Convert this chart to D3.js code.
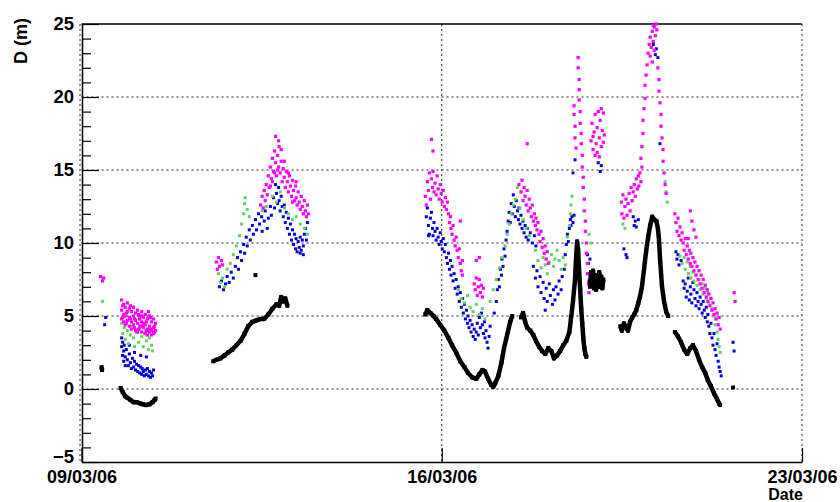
<!DOCTYPE html>
<html><head><meta charset="utf-8">
<script src="https://cdn.jsdelivr.net/npm/d3@7"></script>
<style>
body{margin:0;background:#fff}
svg{display:block}
text{font-family:"Liberation Sans",Arial,Helvetica,sans-serif;font-weight:bold;fill:#000}
</style>
</head><body>
<svg id="chart" width="840" height="502"></svg>
<script>
// ---- axis definitions ----
const xStart = Date.UTC(2006, 2, 9);
const xEnd = Date.UTC(2006, 2, 23);
const xTickDays = [0, 7, 14];
const xTickLabels = ["09/03/06", "16/03/06", "23/03/06"];
const yDomain = [-5, 25];
const yMajorTicks = [-5, 0, 5, 10, 15, 20, 25];
const yMinorTicks = [-4,-3,-2,-1,1,2,3,4,6,7,8,9,11,12,13,14,16,17,18,19,21,22,23,24];
const yGridValues = [0, 5, 10, 15, 20];
const yTitle = "D (m)";
const xTitle = "Date";

// ---- data: [days since 09/03/06 00:00, D (m)]; null = gap in trace ----
const blackSeries = [
[0.39,1.5],[0.40,1.3],null,
[0.76,0.07],[0.80,-0.2],[0.85,-0.5],[0.89,-0.6],[0.95,-0.75],[1.01,-0.9],[1.07,-0.9],[1.15,-1.0],[1.20,-1.05],[1.26,-1.1],[1.32,-1.05],[1.38,-0.9],[1.42,-0.75],[1.44,-0.65],null,
[2.56,1.9],[2.62,2.0],[2.70,2.1],[2.78,2.3],[2.85,2.5],[2.93,2.7],[3.01,3.0],[3.09,3.3],[3.17,3.8],[3.24,4.3],[3.32,4.6],[3.40,4.7],[3.48,4.8],[3.55,4.8],[3.63,5.1],[3.71,5.5],[3.79,5.8],[3.84,5.7],[3.88,6.3],[3.92,6.0],[3.96,6.2],[4.00,5.7],null,
[3.38,7.8],null,
[6.68,5.1],[6.72,5.4],[6.78,5.2],[6.84,5.0],[6.89,4.8],[6.97,4.4],[7.05,4.0],[7.13,3.5],[7.20,3.0],[7.28,2.5],[7.36,1.9],[7.44,1.5],[7.51,1.1],[7.59,0.8],[7.67,0.7],[7.73,1.0],[7.79,1.3],[7.84,1.2],[7.90,0.7],[7.96,0.3],[8.00,0.15],[8.04,0.4],[8.10,0.9],[8.16,1.8],[8.21,2.8],[8.27,3.7],[8.33,4.6],[8.37,5.0],null,
[8.54,4.9],[8.58,5.2],[8.62,4.6],[8.66,4.2],[8.72,4.0],[8.78,3.7],[8.83,3.3],[8.89,2.9],[8.95,2.6],[9.01,2.4],[9.07,2.8],[9.13,2.6],[9.18,2.1],[9.24,2.3],[9.30,2.6],[9.36,3.0],[9.42,3.3],[9.48,3.9],[9.51,4.8],[9.55,6.0],[9.59,7.5],[9.61,9.0],[9.63,10.1],[9.65,9.5],[9.67,8.0],[9.69,6.8],[9.71,5.5],[9.73,4.5],[9.75,3.5],[9.77,2.8],[9.79,2.4],[9.81,2.2],null,
[9.88,7.0],[9.90,8.0],[9.92,7.2],[9.94,8.1],[9.96,6.9],[9.98,7.8],[10.00,6.8],[10.02,7.6],[10.04,7.0],[10.06,8.0],[10.08,7.2],[10.10,7.7],[10.12,6.9],[10.14,7.5],null,
[10.47,4.3],[10.50,4.0],[10.54,4.5],[10.58,4.2],[10.62,4.0],[10.66,4.6],[10.70,4.9],[10.74,5.1],[10.78,5.4],[10.82,5.9],[10.85,6.3],[10.89,7.0],[10.93,8.2],[10.97,9.4],[11.01,10.4],[11.05,11.2],[11.09,11.8],[11.13,11.6],[11.17,11.5],[11.20,11.0],[11.22,10.3],[11.24,9.0],[11.26,8.0],[11.28,7.0],[11.32,6.0],[11.36,5.3],[11.40,5.0],null,
[11.53,3.9],[11.59,3.6],[11.65,3.2],[11.71,2.7],[11.77,2.4],[11.83,2.8],[11.88,3.0],[11.94,2.6],[12.00,2.0],[12.06,1.5],[12.12,1.1],[12.17,0.6],[12.23,0.2],[12.29,-0.3],[12.35,-0.7],[12.39,-1.0],[12.41,-1.1],null,
[12.66,0.1]
];

const blueSeries = [
[0.45,4.4],[0.47,4.9],
[0.78,3.5],[0.78,2.9],[0.80,2.3],[0.80,3.2],[0.82,2.6],[0.82,1.9],[0.83,3.0],[0.85,2.2],[0.85,1.6],[0.87,2.7],[0.89,2.0],[0.91,1.6],[0.93,2.4],[0.93,3.0],[0.95,1.8],[0.97,1.4],[0.99,2.1],[1.01,1.5],[1.03,1.9],[1.03,2.5],[1.05,1.3],[1.07,1.7],[1.09,1.2],[1.11,1.6],[1.13,1.1],[1.15,1.5],[1.15,2.3],[1.17,1.0],[1.18,1.4],[1.20,1.2],[1.22,0.9],[1.24,1.3],[1.26,1.0],[1.26,2.2],[1.28,1.4],[1.30,0.9],[1.32,1.2],[1.34,0.8],[1.36,1.1],[1.38,0.9],[1.40,1.3],
[2.68,7.0],[2.72,7.4],[2.76,6.8],[2.80,7.2],[2.83,7.7],[2.87,7.3],[2.91,8.0],[2.95,7.6],[2.99,8.4],[3.03,9.0],[3.05,8.2],[3.09,9.4],[3.11,8.8],[3.15,9.9],[3.17,9.3],[3.20,10.4],[3.22,9.8],[3.26,10.9],[3.28,10.2],[3.32,11.2],[3.34,10.6],[3.38,11.6],[3.40,10.9],[3.44,12.0],[3.46,11.3],[3.50,11.8],[3.51,10.8],[3.55,11.5],[3.57,12.2],[3.61,11.0],[3.63,11.7],[3.67,12.5],[3.69,11.9],[3.73,13.1],[3.75,12.4],[3.77,14.0],[3.79,13.4],[3.81,12.7],[3.83,13.8],[3.84,12.9],[3.86,12.2],[3.88,13.2],[3.90,12.5],[3.92,11.8],[3.94,12.6],[3.96,11.4],[3.98,12.1],[4.00,11.0],[4.02,11.7],[4.04,10.6],[4.06,11.3],[4.08,10.2],[4.10,10.9],[4.12,9.9],[4.14,10.6],[4.16,9.6],[4.17,10.3],[4.19,9.4],[4.21,10.1],[4.23,9.7],[4.25,10.4],[4.25,9.3],[4.27,9.5],[4.29,10.2],[4.31,9.8],[4.31,9.2],[4.33,10.6],[4.35,11.0],[4.37,10.2],[4.39,11.4],
[6.70,11.8],[6.72,12.4],[6.74,11.2],[6.74,10.5],[6.76,10.6],[6.78,11.7],[6.80,12.1],[6.82,11.0],[6.83,10.5],[6.85,11.4],[6.87,10.8],[6.89,10.2],[6.91,11.0],[6.93,10.4],[6.95,9.9],[6.97,10.7],[6.99,10.1],[7.01,9.6],[7.03,10.3],[7.05,9.4],[7.07,9.9],[7.09,9.0],[7.11,8.6],[7.13,9.3],[7.15,8.2],[7.17,8.8],[7.18,7.8],[7.20,8.4],[7.22,7.4],[7.24,7.9],[7.26,6.9],[7.28,7.5],[7.30,6.5],[7.32,7.0],[7.34,6.0],[7.36,6.6],[7.38,5.6],[7.40,6.2],[7.42,5.2],[7.44,5.8],[7.46,4.8],[7.48,5.4],[7.50,4.5],[7.51,5.0],[7.53,4.2],[7.55,4.7],[7.57,3.9],[7.59,4.4],[7.61,3.6],[7.63,4.1],[7.65,3.4],[7.67,3.9],[7.69,4.5],[7.71,3.7],[7.73,4.9],[7.75,4.2],[7.77,5.2],[7.79,4.4],[7.81,3.8],[7.83,4.6],[7.84,3.5],[7.86,4.0],[7.88,3.2],[7.90,2.8],[7.92,3.6],[7.94,4.3],
[8.02,5.2],[8.06,6.0],[8.08,6.8],[8.10,7.5],[8.12,7.0],[8.14,8.2],[8.16,7.8],[8.17,8.9],[8.19,8.4],[8.21,9.6],[8.23,9.1],[8.25,10.2],[8.27,10.8],[8.29,11.5],[8.31,12.1],[8.33,11.4],[8.35,12.7],[8.37,12.0],[8.39,13.3],[8.41,12.5],[8.43,11.8],[8.45,12.9],[8.47,12.2],[8.49,11.6],[8.50,12.4],[8.52,11.3],[8.54,11.9],[8.56,11.0],[8.58,11.5],[8.60,10.7],[8.62,11.2],[8.64,10.4],[8.66,11.0],[8.68,10.2],[8.72,10.7],[8.76,10.0],[8.80,10.5],[8.83,9.8],
[8.78,8.4],[8.82,7.6],[8.85,8.1],[8.87,7.0],[8.91,7.7],[8.93,6.6],[8.97,7.3],[8.99,6.2],[9.01,5.4],[9.03,6.9],[9.05,6.0],[9.09,7.2],[9.11,6.4],[9.15,5.8],[9.17,6.8],[9.20,6.1],[9.22,7.0],[9.26,6.5],[9.28,7.4],[9.32,6.8],[9.34,7.7],[9.38,8.2],[9.40,9.2],[9.42,9.9],[9.44,10.6],[9.46,10.1],[9.48,11.0],[9.50,11.6],[9.51,11.2],[9.53,11.8],[9.55,11.4],[9.55,14.8],[9.57,11.9],[9.59,15.7],
[9.83,9.2],[9.85,8.6],[9.86,7.4],[9.88,8.9],[10.04,15.5],[10.08,14.9],[10.10,15.3],
[10.54,9.6],[10.58,9.2],[10.60,9.0],[10.72,11.8],[10.74,11.2],[10.76,11.5],[10.78,11.1],[10.82,11.6],[11.11,23.6],[11.15,22.9],[11.17,23.3],[11.20,22.7],[11.24,16.8],
[11.55,9.4],[11.57,8.9],[11.59,9.2],[11.61,8.5],[11.65,8.8],[11.69,7.4],[11.71,6.9],[11.73,7.2],[11.75,6.3],[11.77,6.7],[11.79,7.6],[11.81,6.1],[11.83,7.0],[11.84,6.5],[11.86,5.9],[11.88,7.3],[11.90,6.8],[11.92,6.2],[11.94,5.7],[11.96,6.6],[11.98,6.0],[12.00,5.5],[12.02,6.3],[12.04,5.8],[12.06,5.2],[12.08,6.0],[12.10,5.4],[12.12,4.9],[12.14,5.6],[12.16,4.6],[12.17,5.1],[12.19,4.3],[12.21,3.8],[12.23,4.5],[12.25,3.5],[12.27,3.0],[12.29,3.8],[12.31,2.7],[12.33,2.3],[12.35,3.1],[12.37,1.9],[12.39,1.5],[12.41,1.2],[12.43,0.9],[12.66,3.2],[12.68,2.6]
];

const greenSeries = [
[0.41,6.0],
[0.78,4.5],[0.80,3.8],[0.83,4.2],[0.85,3.4],[0.89,4.0],[0.91,3.1],[0.95,3.7],[0.97,4.3],[1.01,3.5],[1.03,2.9],[1.07,3.9],[1.11,3.2],[1.13,4.1],[1.17,3.6],[1.20,2.9],[1.22,3.8],[1.26,3.3],[1.30,2.7],[1.32,3.5],[1.36,3.0],[1.38,2.6],
[2.66,7.9],[2.70,7.3],[2.74,7.6],[2.78,7.0],[2.83,8.2],[2.89,8.6],[2.95,9.2],[3.01,9.8],[3.07,10.5],[3.11,11.3],[3.15,12.0],[3.17,12.7],[3.18,13.1],[3.22,12.3],[3.26,11.8],
[3.51,12.2],[3.59,12.5],[3.71,13.2],[3.79,12.8],[3.86,13.5],[3.94,12.4],[4.02,12.0],[4.10,11.6],[4.17,11.8],[4.25,11.3],[4.33,11.0],[4.39,10.6],
[7.32,6.8],[7.38,6.2],[7.44,5.9],[7.50,6.4],[7.55,5.6],[7.61,5.3],[7.67,5.8],[7.73,5.1],[7.79,5.5],[7.84,4.8],
[7.94,6.0],[8.00,6.8],[8.06,7.5],[8.12,8.3],[8.17,9.0],[8.23,9.8],[8.27,10.6],[8.31,11.3],[8.35,12.0],[8.39,12.6],[8.43,13.0],[8.47,13.8],[8.52,12.4],[8.58,11.6],[8.64,11.0],[8.70,10.5],
[8.82,9.5],[8.87,8.8],[8.93,8.3],[8.97,9.0],[9.01,8.5],[9.05,7.9],[9.09,8.7],[9.13,9.2],[9.17,8.4],[9.20,8.9],[9.24,9.5],[9.28,8.8],[9.32,8.2],[9.36,9.0],[9.40,8.5],
[9.44,10.4],[9.48,11.2],[9.50,12.0],[9.51,12.6],[9.53,13.2],[9.86,10.6],[9.90,10.0],
[10.52,11.3],[10.56,11.0],[11.34,14.2],[11.36,13.5],[11.38,12.8],
[11.63,9.1],[11.67,8.6],[11.71,9.0],[11.73,8.2],[11.77,8.7],[11.79,7.9],[11.83,8.4],[11.84,7.6],[11.88,8.0],[11.90,7.4],[11.94,7.8],[11.96,7.1],[12.00,7.5],[12.02,6.8],[12.06,7.2],[12.08,6.5],[12.12,6.9],[12.14,6.2],[12.17,6.6],[12.19,5.9],[12.23,6.2],[12.25,5.5],[12.29,5.0],[12.31,4.4],[12.33,4.8],[12.35,3.9],[12.37,3.4],[12.39,2.9],[12.41,2.5]
];

const magentaSeries = [
[0.37,7.7],[0.41,7.4],[0.43,7.6],
[0.78,6.1],[0.78,5.4],[0.78,4.8],[0.80,5.7],[0.80,4.9],[0.82,5.8],[0.82,5.1],[0.82,4.6],[0.85,5.6],[0.85,5.0],[0.85,4.4],[0.87,5.2],[0.87,4.5],[0.89,5.9],[0.89,5.3],[0.89,4.7],[0.93,5.5],[0.93,4.9],[0.93,4.3],[0.95,5.7],[0.95,4.8],[0.97,5.3],[0.97,4.6],[0.97,4.1],[1.01,5.6],[1.01,5.0],[1.01,4.4],[1.03,4.8],[1.03,4.2],[1.05,5.2],[1.05,4.7],[1.05,4.0],[1.09,5.4],[1.09,4.5],[1.09,3.9],[1.11,5.1],[1.11,4.1],[1.13,5.0],[1.13,4.3],[1.13,4.8],[1.17,5.3],[1.17,4.6],[1.17,3.9],[1.18,5.0],[1.18,4.3],[1.20,4.9],[1.20,4.2],[1.20,4.5],[1.24,5.1],[1.24,4.4],[1.24,3.8],[1.26,4.6],[1.26,4.0],[1.28,4.8],[1.28,4.1],[1.28,3.7],[1.30,5.3],[1.32,5.0],[1.32,4.3],[1.32,3.9],[1.34,4.9],[1.34,4.1],[1.36,4.6],[1.36,4.0],[1.36,3.7],[1.40,4.8],[1.40,4.2],[1.40,3.8],[1.42,4.3],[1.42,3.9],[1.44,4.5],[1.44,4.0],
[2.62,8.7],[2.64,8.2],[2.66,9.0],[2.68,8.4],[2.72,8.8],[2.74,8.5],
[3.48,12.6],[3.51,13.2],[3.53,12.4],[3.55,13.6],[3.57,12.9],[3.59,14.0],[3.61,13.3],[3.63,14.6],[3.65,13.8],[3.67,15.2],[3.67,13.9],[3.69,14.4],[3.71,15.8],[3.71,14.2],[3.73,14.9],[3.75,16.3],[3.75,14.8],[3.77,15.5],[3.77,17.3],[3.79,14.6],[3.81,16.0],[3.81,15.0],[3.83,15.2],[3.83,17.0],[3.84,16.6],[3.86,14.8],[3.88,15.6],[3.88,16.4],[3.90,14.2],[3.92,15.1],[3.94,14.5],[3.94,15.6],[3.96,13.8],[3.98,14.9],[4.00,14.2],[4.02,13.5],[4.02,14.8],[4.04,14.6],[4.06,13.9],[4.08,13.2],[4.10,14.3],[4.10,12.8],[4.12,13.6],[4.14,12.9],[4.16,13.9],[4.17,13.1],[4.17,14.2],[4.19,12.6],[4.21,13.5],[4.23,12.8],[4.25,12.3],[4.27,13.2],[4.29,12.5],[4.31,12.0],[4.33,12.9],[4.35,12.2],[4.37,11.8],[4.39,12.6],[4.41,12.0],
[6.80,17.1],[6.83,16.3],
[6.68,13.2],[6.70,12.6],[6.72,14.2],[6.74,13.6],[6.76,14.8],[6.78,13.0],[6.80,14.4],[6.82,13.8],[6.83,14.9],[6.85,13.5],[6.87,14.1],[6.89,13.3],[6.91,14.6],[6.93,13.7],[6.95,13.0],[6.97,14.0],[6.99,13.4],[7.01,12.8],[7.03,13.6],[7.05,12.5],[7.07,13.1],[7.09,12.3],[7.11,12.8],
[7.13,12.0],[7.15,11.4],[7.17,11.8],[7.18,11.0],[7.20,10.6],[7.22,11.2],[7.24,10.2],[7.26,9.8],[7.28,10.4],[7.30,9.5],[7.32,9.0],[7.34,9.6],[7.36,8.6],[7.36,11.5],[7.38,8.1],[7.40,8.8],[7.40,7.8],
[7.63,7.2],[7.65,6.8],[7.67,7.6],[7.67,8.8],[7.69,6.4],[7.71,7.0],[7.73,7.5],[7.73,9.0],[7.75,6.6],[7.77,7.1],[7.79,6.3],[7.81,6.9],
[8.66,16.8],
[8.50,14.0],[8.54,13.5],[8.56,14.3],[8.58,12.9],[8.60,13.8],[8.62,13.2],[8.64,12.6],[8.66,13.6],[8.68,12.2],[8.70,13.0],[8.72,12.4],[8.74,11.8],[8.76,12.6],[8.78,11.5],[8.80,12.0],[8.82,11.2],[8.83,11.7],[8.85,10.9],[8.87,11.4],[8.89,10.6],[8.91,10.1],[8.93,10.8],[8.95,9.7],[8.97,10.3],[8.99,9.3],[9.01,9.8],[9.03,8.9],[9.05,9.4],[9.07,8.6],
[9.57,18.8],[9.57,19.4],[9.59,18.0],[9.59,17.2],[9.61,16.5],[9.65,22.7],[9.65,22.0],[9.67,21.2],[9.67,20.5],[9.67,19.8],[9.69,19.0],[9.69,18.2],[9.71,17.5],[9.71,16.8],[9.73,16.0],[9.73,15.2],[9.75,14.5],[9.75,13.8],[9.77,13.0],[9.77,12.2],[9.79,11.5],[9.79,10.8],[9.81,10.0],[9.81,9.3],[9.83,8.6],[9.83,7.9],[9.85,7.2],[9.86,6.6],
[9.90,17.0],[9.92,18.2],[9.94,16.4],[9.94,17.3],[9.96,17.6],[9.98,18.8],[9.98,16.0],[10.00,16.8],[10.02,17.9],[10.02,16.2],[10.04,19.0],[10.06,17.2],[10.06,15.9],[10.08,18.4],[10.10,16.6],[10.10,19.2],[10.12,17.7],[10.14,18.9],[10.14,16.9],[10.16,17.4],
[10.49,12.8],[10.50,12.0],[10.52,13.3],[10.54,11.7],[10.56,12.5],[10.58,13.0],[10.60,11.9],[10.62,12.7],[10.64,13.4],[10.66,12.2],[10.68,13.8],[10.70,12.9],[10.72,13.5],[10.74,14.0],[10.76,13.2],[10.78,14.4],[10.80,13.7],[10.82,14.6],[10.83,13.9],[10.85,14.8],[10.87,14.2],[10.87,15.8],[10.89,15.2],[10.89,16.6],[10.91,17.5],[10.91,18.4],[10.93,19.2],[10.95,19.9],[10.95,20.8],[10.97,21.5],[10.99,22.2],[11.01,23.0],[11.03,23.6],[11.05,24.1],[11.05,22.8],[11.07,23.4],[11.09,24.5],[11.09,22.4],[11.11,23.8],[11.11,24.9],[11.13,24.8],[11.13,23.2],[11.15,24.2],[11.17,25.0],[11.18,24.6],[11.20,22.0],[11.22,21.2],[11.22,20.4],[11.24,19.6],[11.26,18.8],[11.26,18.0],[11.28,17.2],[11.30,16.4],[11.30,15.6],[11.32,14.8],[11.34,14.0],[11.36,13.4],
[11.53,12.0],[11.55,11.4],[11.57,10.8],[11.59,11.7],[11.61,10.5],[11.63,11.1],[11.65,10.2],[11.67,10.7],[11.69,10.0],[11.71,9.5],[11.73,10.3],[11.75,9.2],[11.77,9.8],[11.79,8.9],[11.79,10.3],[11.81,9.5],[11.83,8.6],[11.83,12.2],[11.84,9.3],[11.86,8.4],[11.86,11.5],[11.88,9.0],[11.90,8.1],[11.90,10.9],[11.92,8.7],[11.94,7.8],[11.94,10.4],[11.96,8.4],[11.98,7.5],[12.00,8.1],[12.02,7.2],[12.04,7.8],[12.06,6.9],[12.08,7.5],[12.10,6.6],[12.12,7.1],[12.14,6.3],[12.16,6.8],[12.17,6.0],[12.19,6.5],[12.21,5.7],[12.23,6.2],[12.25,5.4],[12.27,5.9],[12.29,5.1],[12.31,5.5],[12.33,4.8],[12.35,5.2],[12.37,4.4],[12.39,4.9],[12.41,4.1],[12.68,6.6],[12.70,6.0]
];

const seriesColors = { blue: "#0000dd", green: "#5fd35f", magenta: "#ff00ff", black: "#000000" };

// ---- drawing ----
const svg = d3.select("#chart");
const DAY = 86400000;
const toDate = t => new Date(xStart + t * DAY);

const x = d3.scaleUtc().domain([new Date(xStart), new Date(xEnd)]).range([81.5, 802]);
const y = d3.scaleLinear().domain(yDomain).range([462, 24]);

const gridG = svg.append("g");
gridG.selectAll("line.h").data(yGridValues).join("line")
  .attr("x1", x.range()[0]).attr("x2", x.range()[1])
  .attr("y1", d => y(d)).attr("y2", d => y(d))
  .attr("stroke", "#222").attr("stroke-width", 1).attr("stroke-dasharray", "2,3");
gridG.selectAll("line.v").data(xTickDays).join("line")
  .attr("x1", d => x(toDate(d)) - (d === 0 ? 1.5 : 0)).attr("x2", d => x(toDate(d)) - (d === 0 ? 1.5 : 0))
  .attr("y1", y(yDomain[1])).attr("y2", y(yDomain[0]))
  .attr("stroke", "#222").attr("stroke-width", 1).attr("stroke-dasharray", "2,3");

svg.append("line").attr("x1", x.range()[0]).attr("x2", x.range()[1])
  .attr("y1", y(yDomain[1])).attr("y2", y(yDomain[1]))
  .attr("stroke", "#000").attr("stroke-width", 1.5);

function drawPoints(data, color, size) {
  svg.append("g").selectAll("rect").data(data.filter(d => d)).join("rect")
    .attr("x", d => x(toDate(d[0])) - size / 2)
    .attr("y", d => y(d[1]) - size / 2)
    .attr("width", size).attr("height", size)
    .attr("fill", color);
}
drawPoints(blueSeries, seriesColors.blue, 3);
drawPoints(greenSeries, seriesColors.green, 3);
drawPoints(magentaSeries, seriesColors.magenta, 3.2);

const line = d3.line().defined(d => d).x(d => x(toDate(d[0]))).y(d => y(d[1]));
svg.append("path").attr("d", line(blackSeries)).attr("fill", "none")
  .attr("stroke", seriesColors.black).attr("stroke-width", 4.5).attr("stroke-linejoin", "round");
drawPoints(blackSeries, seriesColors.black, 4);

const xAxis = d3.axisBottom(x)
  .tickValues(xTickDays.map(toDate))
  .tickFormat((d, i) => xTickLabels[i])
  .tickSizeInner(-14).tickSizeOuter(0).tickPadding(8);
const gx = svg.append("g").attr("transform", `translate(0,${y(yDomain[0])})`).call(xAxis);
gx.select(".domain").attr("stroke", "#000").attr("stroke-width", 1.5);
gx.selectAll(".tick line").attr("stroke", "#000").attr("stroke-width", 1.2);
gx.selectAll("text").attr("font-size", 18).attr("font-family", null).attr("fill", "#000");

const yMinor = d3.axisLeft(y).tickValues(yMinorTicks).tickFormat("").tickSizeInner(-9).tickSizeOuter(0);
const gym = svg.append("g").attr("transform", "translate(82,0)").call(yMinor);
gym.select(".domain").remove();
gym.selectAll(".tick line").attr("stroke", "#000").attr("stroke-width", 1.2);

const yAxis = d3.axisLeft(y).tickValues(yMajorTicks).tickFormat(d3.format("d"))
  .tickSizeInner(-17).tickSizeOuter(0).tickPadding(8);
const gy = svg.append("g").attr("transform", "translate(82,0)").call(yAxis);
gy.select(".domain").attr("stroke", "#000").attr("stroke-width", 1.5);
gy.selectAll(".tick line").attr("stroke", "#000").attr("stroke-width", 1.2);
gy.selectAll("text").attr("font-size", 18.5).attr("font-family", null).attr("fill", "#000");
gy.selectAll(".tick").filter(d => d === yDomain[0]).select("text").attr("dy", "0.02em");

svg.append("text").attr("transform", "translate(27,18) rotate(-90)")
  .attr("text-anchor", "end").attr("font-size", 18).text(yTitle);
svg.append("text").attr("x", 803).attr("y", 500)
  .attr("text-anchor", "end").attr("font-size", 16).text(xTitle);
</script>
</body></html>
